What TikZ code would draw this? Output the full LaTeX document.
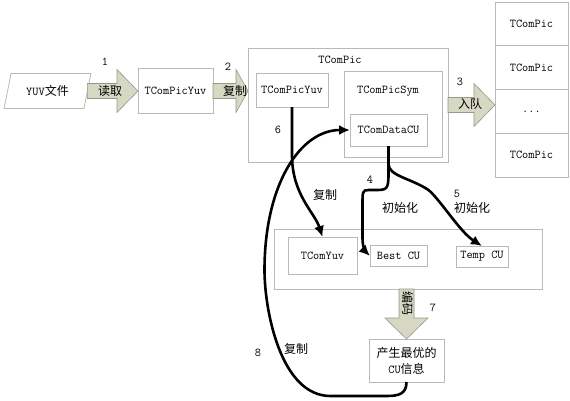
\documentclass[tikz,border=0pt]{standalone}
\usepackage{fontspec}
\newfontfamily\cjk{Noto Sans CJK SC}
\usetikzlibrary{
  arrows.meta,
  calc,
  positioning,
  shapes.geometric
}
\definecolor{boxgray}{RGB}{185,185,185}
\definecolor{arrowfill}{RGB}{214,216,196}
\definecolor{arrowedge}{RGB}{150,152,138}
\tikzset{
  % For class boxes.
  classbox/.style={
    draw=boxgray,
    line width=0.8pt,
    fill=white,
    font=\ttfamily\fontsize{12}{16}\selectfont,
    inner sep=0pt,
    outer sep=0pt},
%
  % For the input file.
  filebox/.style={
    classbox,
    trapezium,
    trapezium left angle=70,
    trapezium right angle=110,
    trapezium stretches=true},
%
  % Wide block arrows; the argument is the length of the head.
  fat arrow/.style={
    draw=arrowedge,
    fill=arrowfill,
    line width=0.6pt,
    to path={let \p1=($(\tikztotarget)!#1!(\tikztostart)$) in
      ($(\tikztostart)!7.5pt!90:(\tikztotarget)$)
      -- ($(\p1)!7.5pt!90:(\tikztotarget)$)
      -- ($(\p1)!21.5pt!90:(\tikztotarget)$)
      -- (\tikztotarget)
      -- ($(\p1)!21.5pt!-90:(\tikztotarget)$)
      -- ($(\p1)!7.5pt!-90:(\tikztotarget)$)
      -- ($(\tikztostart)!7.5pt!-90:(\tikztotarget)$)
      -- cycle}},
  fat arrow/.default=21pt,
%
  % For the thick flow curves.
  flow line/.style={
    line width=2.6pt,
    -{Latex[length=11pt,width=10pt]}},
%
  % For step numbers.
  stepno/.style={
    font=\ttfamily\fontsize{12}{14}\selectfont,
    inner sep=0pt},
%
  % For Chinese labels.
  cnlabel/.style={
    font=\cjk\fontsize{12}{14}\selectfont,
    inner sep=0pt},
}

\begin{document}
\begin{tikzpicture}[x=1pt,y=-1pt]
  \useasboundingbox (0,0) rectangle (570,400);

  % outer containers
  \node[classbox, minimum width=200, minimum height=114] (tcpic) at (348,105) {};
  \node[classbox, font=\ttfamily\fontsize{12}{14}\selectfont] (pictitle) at (340,60) [draw=none, fill=none] {TComPic};
  \node[classbox, minimum width=98, minimum height=86] (picsym) at (393,114) {};
  \node[classbox, draw=none, fill=none] (symtitle) at (388,91) {TComPicSym};
  \node[classbox, minimum width=268, minimum height=60] (lowbox) at (408,259) {};

  % boxes
  \node[filebox, minimum width=87, minimum height=35] (yuvfile) at (47.5,91) {YUV{\cjk 文件}};
  \node[classbox, minimum width=75, minimum height=45] (picyuv) at (175.5,91) {TComPicYuv};
  \node[classbox, minimum width=72, minimum height=34] (inyuv) at (292,90) {TComPicYuv};
  \node[classbox, minimum width=77, minimum height=32] (datacu) at (388.5,130) {TComDataCU};
  \node[classbox, minimum width=69, minimum height=37] (tcomyuv) at (322.5,255.5) {TComYuv};
  \node[classbox, minimum width=57, minimum height=21] (bestcu) at (398.5,256) {Best CU};
  \node[classbox, minimum width=52, minimum height=21] (tempcu) at (482,256.5) {Temp CU};
  \node[classbox, minimum width=75, minimum height=43, align=center] (cuinfo) at (406.5,360.5)
    {{\cjk 产生最优的}\\CU{\cjk 信息}};

  % picture queue
  \node[classbox, minimum width=73, minimum height=43.75] (q1) at (531.5,23.9) {TComPic};
  \node[classbox, minimum width=73, minimum height=43.75, below=0pt of q1] (q2) {TComPic};
  \node[classbox, minimum width=73, minimum height=43.75, below=0pt of q2] (q3) {...};
  \node[classbox, minimum width=73, minimum height=43.75, below=0pt of q3] (q4) {TComPic};

  % block arrows
  \coordinate (enq) at (448,105);
  \draw[fat arrow] (yuvfile.east) to (picyuv.west);
  \draw[fat arrow=12pt] (picyuv.east) to (tcpic.west |- picyuv.east);
  \draw[fat arrow] (enq) to (enq -| q3.west);
  \draw[fat arrow] (lowbox.south -| cuinfo.north) to (cuinfo.north);

  \node[cnlabel] (read) at (110,91) {读取};
  \node[cnlabel] (copy1) at (235,91) {复制};
  \node[cnlabel] (enqueue) at (470,104) {入队};
  \node[cnlabel, rotate=-90] (encode) at (407.5,303) {编码};

  % flow curves
  \draw[flow line] (inyuv.south) -- ++(0,48)
    .. controls +(0,40) and +(-8,-25) .. (tcomyuv.north);
  \draw[flow line] (datacu.south) -- ++(0,28)
    .. controls +(0,16) and +(12,0) .. ++(-14,16)
    -- ++(-6,0)
    .. controls +(-6,0) and +(0,-12) .. ++(-6,14)
    -- ++(0,34)
    .. controls +(0,10) and +(-4,-4) .. (bestcu.west);
  \draw[flow line] (datacu.south) -- ++(0,18)
    .. controls +(0,12) and +(-18,-12) .. ++(40,26)
    .. controls +(12,10) and +(-22,-14) .. (tempcu.north);
  \draw[flow line] (cuinfo.south)
    .. controls +(0,12) and +(12,0) .. ++(-20,14)
    -- ++(-56,0)
    .. controls +(-50,0) and +(0,40) .. ++(-66,-126)
    .. controls +(0,-85) and +(-50,0) .. (datacu.west);

  % step numbers and labels
  \node[stepno] (n1) at (105,62) {1};
  \node[stepno] (n2) at (228,67) {2};
  \node[stepno] (n3) at (460,82) {3};
  \node[stepno] (n4) at (370,180) {4};
  \node[stepno] (n5) at (457,194) {5};
  \node[stepno] (n6) at (278,130) {6};
  \node[stepno] (n7) at (433,308) {7};
  \node[stepno] (n8) at (258,353) {8};
  \node[cnlabel] (copy6) at (325,195) {复制};
  \node[cnlabel] (init4) at (400,208) {初始化};
  \node[cnlabel] (init5) at (472,208) {初始化};
  \node[cnlabel] (copy8) at (296,349) {复制};
\end{tikzpicture}
\end{document}
